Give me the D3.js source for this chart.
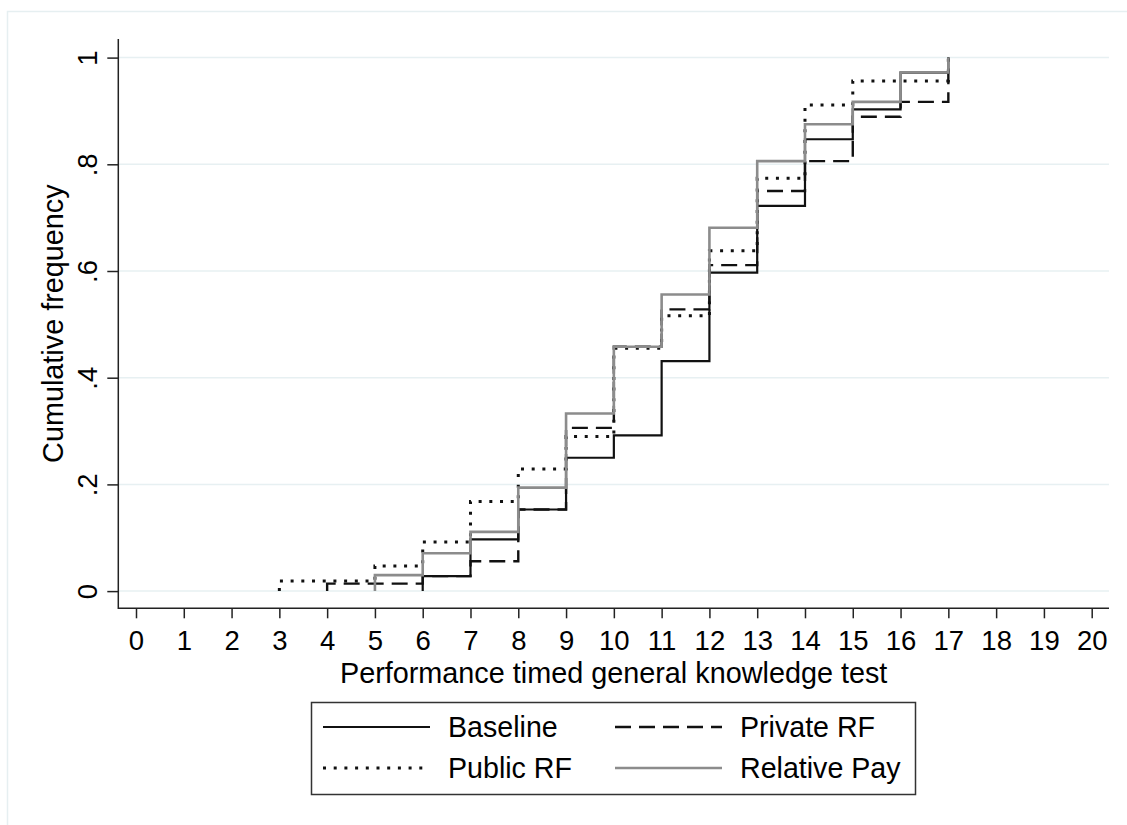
<!DOCTYPE html>
<html>
<head>
<meta charset="utf-8">
<script src="https://cdn.jsdelivr.net/npm/d3@7"></script>
<style>
  html, body { margin: 0; padding: 0; background: #ffffff; }
  svg { display: block; }
  text { font-family: "Liberation Sans", Arial, sans-serif; fill: #000; }
</style>
</head>
<body>
<svg id="chart" width="1127" height="825"></svg>
<script>
// Cumulative share of participants at or below each test score, per treatment.
const baselineScores = [6, 7, 8, 9, 10, 11, 12, 13, 14, 15, 16, 17];
const baselineCum    = [0.028, 0.097, 0.153, 0.25, 0.292, 0.431, 0.597, 0.722, 0.847, 0.903, 0.972, 1];

const privateScores  = [4, 6, 7, 8, 9, 10, 11, 12, 13, 14, 15, 16, 17];
const privateCum     = [0.014, 0.028, 0.056, 0.153, 0.306, 0.458, 0.528, 0.611, 0.75, 0.806, 0.889, 0.917, 1];

const publicScores   = [3, 5, 6, 7, 8, 9, 10, 11, 12, 13, 14, 15, 17];
const publicCum      = [0.019, 0.047, 0.092, 0.168, 0.229, 0.29, 0.455, 0.516, 0.638, 0.774, 0.911, 0.956, 1];

const relativeScores = [5, 6, 7, 8, 9, 10, 11, 12, 13, 14, 15, 16, 17];
const relativeCum    = [0.03, 0.071, 0.111, 0.194, 0.333, 0.458, 0.556, 0.681, 0.806, 0.875, 0.917, 0.972, 1];

const seriesNames = ["Baseline", "Private RF", "Public RF", "Relative Pay"];
const xTicks = d3.range(0, 21);
const yTicks = [0, 0.2, 0.4, 0.6, 0.8, 1];
const yTickLabels = ["0", ".2", ".4", ".6", ".8", "1"];

const svg = d3.select("#chart");

// light outer frame of the graph region
svg.append("rect")
  .attr("x", 7.5).attr("y", 11.5)
  .attr("width", 1130).attr("height", 830)
  .attr("fill", "#ffffff")
  .attr("stroke", "#e6eff1").attr("stroke-width", 1.5);

const x = d3.scaleLinear().domain([0, 20]).range([136, 1091.7]);
const y = d3.scaleLinear().domain([0, 1]).range([591.1, 57.6]);

const plotLeft = 118.3, plotRight = 1109, axisY = 608.3, axisTop = 39;

// horizontal grid
svg.append("g")
  .selectAll("line")
  .data(yTicks)
  .join("line")
  .attr("x1", plotLeft).attr("x2", plotRight)
  .attr("y1", d => y(d)).attr("y2", d => y(d))
  .attr("stroke", "#e7f0f2").attr("stroke-width", 1.5);

// axes
const xAxis = d3.axisBottom(x)
  .tickValues(xTicks)
  .tickFormat(d3.format("d"))
  .tickSize(10)
  .tickSizeOuter(0);

const gx = svg.append("g")
  .attr("transform", `translate(0,${axisY})`)
  .call(xAxis);
gx.select(".domain").remove();
gx.selectAll(".tick line").attr("stroke", "#222").attr("stroke-width", 1.5);
gx.selectAll(".tick text")
  .attr("y", 42).attr("dy", null)
  .style("font-size", "27.5px")
  .style("font-family", "'Liberation Sans', Arial, sans-serif")
  .attr("fill", "#000");

const yAxis = d3.axisLeft(y)
  .tickValues(yTicks)
  .tickFormat((d, i) => yTickLabels[i])
  .tickSize(11)
  .tickSizeOuter(0);

const gy = svg.append("g")
  .attr("transform", `translate(${plotLeft},0)`)
  .call(yAxis);
gy.select(".domain").remove();
gy.selectAll(".tick line").attr("stroke", "#222").attr("stroke-width", 1.5);
gy.selectAll(".tick text")
  .attr("x", null).attr("dy", null)
  .attr("text-anchor", "middle")
  .attr("transform", "translate(-21,0) rotate(-90)")
  .style("font-size", "27.5px")
  .style("font-family", "'Liberation Sans', Arial, sans-serif")
  .attr("fill", "#000");

// axis lines
svg.append("line")
  .attr("x1", plotLeft).attr("x2", plotLeft)
  .attr("y1", axisTop).attr("y2", axisY + 0.75)
  .attr("stroke", "#222").attr("stroke-width", 1.5);
svg.append("line")
  .attr("x1", plotLeft).attr("x2", plotRight)
  .attr("y1", axisY).attr("y2", axisY)
  .attr("stroke", "#222").attr("stroke-width", 1.5);

// axis titles
svg.append("text")
  .attr("x", (plotLeft + plotRight) / 2).attr("y", 683)
  .attr("text-anchor", "middle")
  .style("font-size", "28.8px")
  .text("Performance timed general knowledge test");

svg.append("text")
  .attr("transform", `translate(63,${(axisTop + axisY) / 2}) rotate(-90)`)
  .attr("text-anchor", "middle")
  .style("font-size", "28.8px")
  .text("Cumulative frequency");

// step lines
const styles = [
  { color: "#111111", width: 2.2, dash: null },
  { color: "#111111", width: 2.4, dash: "16,8" },
  { color: "#111111", width: 3, dash: "3,7.7" },
  { color: "#8c8c8c", width: 2.6, dash: null }
];

function stepPoints(scores, cum) {
  const pts = [{ s: scores[0], c: 0 }];
  scores.forEach((s, i) => pts.push({ s, c: cum[i] }));
  return pts;
}

const series = [
  stepPoints(baselineScores, baselineCum),
  stepPoints(privateScores, privateCum),
  stepPoints(publicScores, publicCum),
  stepPoints(relativeScores, relativeCum)
];

const line = d3.line()
  .x(d => x(d.s))
  .y(d => y(d.c))
  .curve(d3.curveStepAfter);

svg.append("g")
  .selectAll("path")
  .data(series)
  .join("path")
  .attr("d", line)
  .attr("fill", "none")
  .attr("stroke", (d, i) => styles[i].color)
  .attr("stroke-width", (d, i) => styles[i].width)
  .attr("stroke-dasharray", (d, i) => styles[i].dash)
  .attr("stroke-linejoin", "miter");

// legend
const legend = svg.append("g");
legend.append("rect")
  .attr("x", 311.5).attr("y", 702.5)
  .attr("width", 604).attr("height", 92)
  .attr("fill", "#ffffff")
  .attr("stroke", "#333333").attr("stroke-width", 1.5);

const legendPos = [
  { lx: 323, ty: 727, tx: 448 },
  { lx: 615, ty: 727, tx: 740 },
  { lx: 323, ty: 768, tx: 448 },
  { lx: 615, ty: 768, tx: 740 }
];

seriesNames.forEach((name, i) => {
  const p = legendPos[i];
  legend.append("line")
    .attr("x1", p.lx).attr("x2", p.lx + 107)
    .attr("y1", p.ty).attr("y2", p.ty)
    .attr("stroke", styles[i].color)
    .attr("stroke-width", styles[i].width)
    .attr("stroke-dasharray", styles[i].dash);
  legend.append("text")
    .attr("x", p.tx).attr("y", p.ty + 10)
    .style("font-size", "28.6px")
    .text(name);
});
</script>
</body>
</html>
